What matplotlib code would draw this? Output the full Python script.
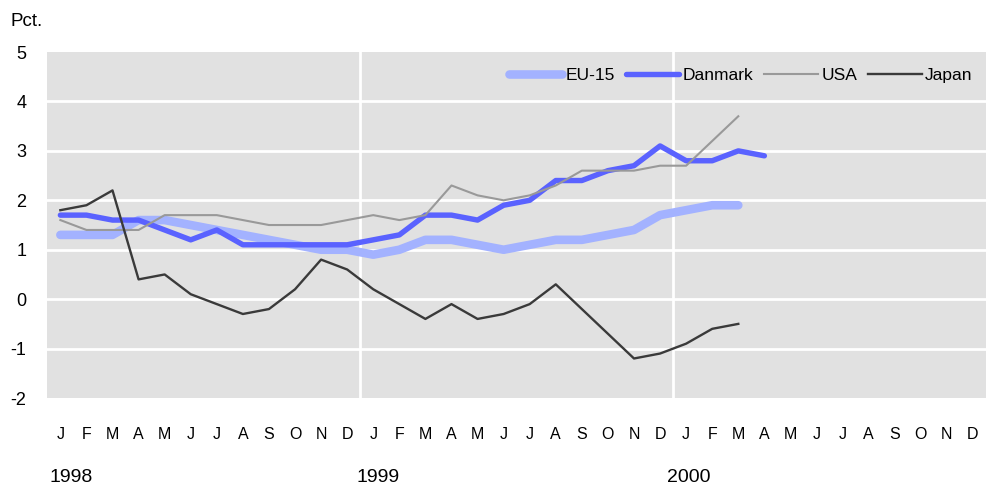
import matplotlib
matplotlib.use("Agg")
import matplotlib.pyplot as plt
import matplotlib.transforms as mtransforms
import numpy as np

plt.rcParams['font.family'] = ['Liberation Sans', 'DejaVu Sans']
plt.rcParams['axes.unicode_minus'] = False

months = ["J", "F", "M", "A", "M", "J", "J", "A", "S", "O", "N", "D"] * 3
years = ["1998", "1999", "2000"]

eu15 = [1.3, 1.3, 1.3, 1.6, 1.6, 1.5, 1.4, 1.3, 1.2, 1.1, 1.0, 1.0,
        0.9, 1.0, 1.2, 1.2, 1.1, 1.0, 1.1, 1.2, 1.2, 1.3, 1.4, 1.7,
        1.8, 1.9, 1.9]
danmark = [1.7, 1.7, 1.6, 1.6, 1.4, 1.2, 1.4, 1.1, 1.1, 1.1, 1.1, 1.1,
           1.2, 1.3, 1.7, 1.7, 1.6, 1.9, 2.0, 2.4, 2.4, 2.6, 2.7, 3.1,
           2.8, 2.8, 3.0, 2.9]
usa = [1.6, 1.4, 1.4, 1.4, 1.7, 1.7, 1.7, 1.6, 1.5, 1.5, 1.5, 1.6,
       1.7, 1.6, 1.7, 2.3, 2.1, 2.0, 2.1, 2.3, 2.6, 2.6, 2.6, 2.7,
       2.7, 3.2, 3.7]
japan = [1.8, 1.9, 2.2, 0.4, 0.5, 0.1, -0.1, -0.3, -0.2, 0.2, 0.8, 0.6,
         0.2, -0.1, -0.4, -0.1, -0.4, -0.3, -0.1, 0.3, -0.2, -0.7, -1.2, -1.1,
         -0.9, -0.6, -0.5]

fig = plt.figure(figsize=(9.86, 4.86), dpi=100)
ax = fig.add_axes([0.048, 0.181, 0.952, 0.712])
ax.set_facecolor("#e1e1e1")

ax.plot(np.arange(len(eu15)), eu15, color="#a3b2ff", lw=6.2, label="EU-15",
        solid_capstyle="round", solid_joinstyle="round", zorder=3)
ax.plot(np.arange(len(danmark)), danmark, color="#5a62ff", lw=3.9, label="Danmark",
        solid_capstyle="round", solid_joinstyle="round", zorder=4)
ax.plot(np.arange(len(usa)), usa, color="#999999", lw=1.5, label="USA", zorder=5)
ax.plot(np.arange(len(japan)), japan, color="#3a3a3a", lw=1.7, label="Japan", zorder=6)

ax.set_xlim(-0.5, 35.5)
ax.set_ylim(-2, 5)
ax.set_yticks(range(-2, 6))
ax.set_xticks(range(36))
ax.set_xticklabels(months, fontsize=11.5)
ax.tick_params(axis="x", length=0, pad=21)
ax.tick_params(axis="y", length=0, pad=15, labelsize=13)

for y in range(-1, 5):
    ax.axhline(y, color="white", lw=2, zorder=1)
for x in (11.5, 23.5):
    ax.axvline(x, color="white", lw=2, zorder=1)
for s in ax.spines.values():
    s.set_visible(False)

trans = mtransforms.blended_transform_factory(ax.transData, fig.transFigure)
for pos, yr in zip((0.4, 12.2, 24.1), years):
    ax.text(pos, 0.0, yr, transform=trans, ha="center", va="bottom", fontsize=14)

fig.text(0.011, 0.938, "Pct.", fontsize=13.5, ha="left", va="bottom")

ax.legend(loc="upper right", bbox_to_anchor=(0.993, 0.975), ncol=4, frameon=False,
          fontsize=12.5, handlelength=3.1, handletextpad=0.2, columnspacing=0.6,
          borderaxespad=0)

fig.savefig("out.png", dpi=100)
